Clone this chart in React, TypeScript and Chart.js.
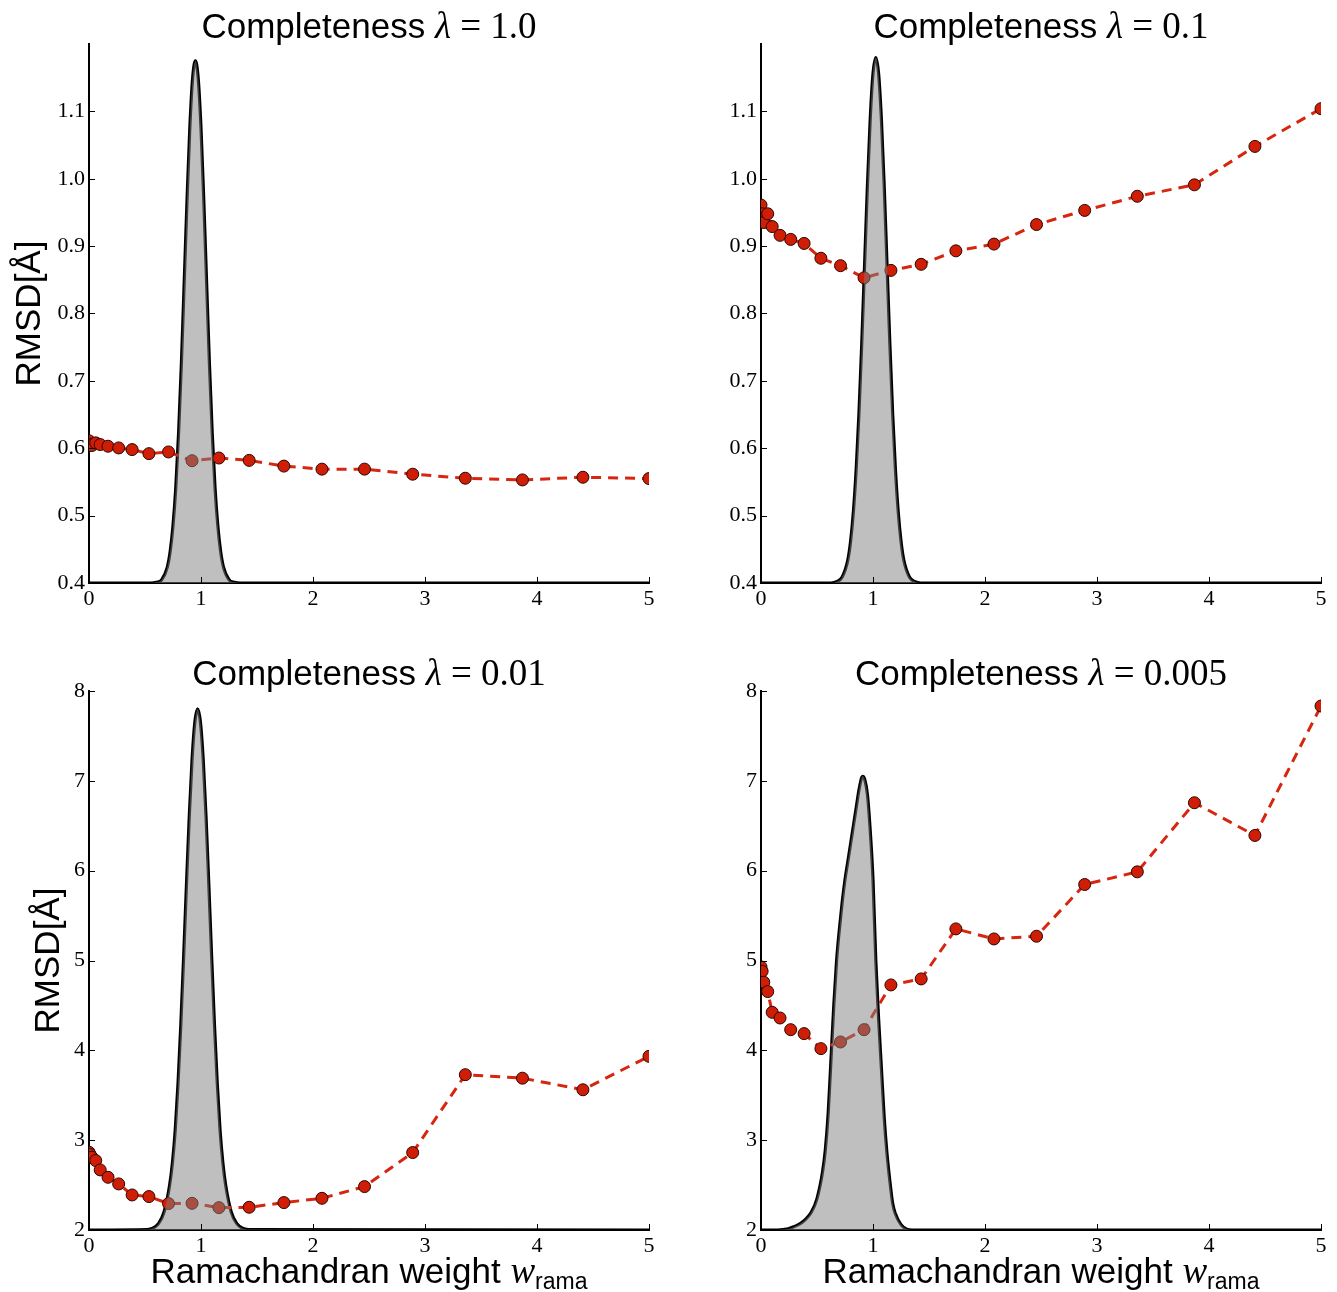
import React, { useEffect, useRef } from "react";
import { Chart, registerables } from "chart.js";

Chart.register(...registerables);

// ---------- data ----------
const W_RAMA = [0, 0.01, 0.025, 0.06, 0.1, 0.17, 0.265, 0.385, 0.535, 0.71, 0.92, 1.16, 1.43, 1.74, 2.08, 2.46, 2.89, 3.36, 3.87, 4.41, 5.0];

const RMSD_L1 = [0.611, 0.606, 0.604, 0.608, 0.6055, 0.603, 0.6005, 0.598, 0.592, 0.5945, 0.5815, 0.5855, 0.582, 0.5735, 0.569, 0.569, 0.5615, 0.5555, 0.553, 0.557, 0.555];
const RMSD_L01 = [0.961, 0.948, 0.935, 0.948, 0.929, 0.916, 0.91, 0.904, 0.882, 0.871, 0.853, 0.864, 0.873, 0.893, 0.903, 0.932, 0.953, 0.974, 0.991, 1.048, 1.104];
const RMSD_L001 = [2.866, 2.84, 2.81, 2.773, 2.669, 2.587, 2.513, 2.39, 2.372, 2.294, 2.297, 2.249, 2.253, 2.305, 2.353, 2.483, 2.862, 3.729, 3.69, 3.561, 3.933];
const RMSD_L0005 = [4.929, 4.88, 4.758, 4.654, 4.423, 4.36, 4.23, 4.186, 4.019, 4.093, 4.23, 4.728, 4.795, 5.352, 5.24, 5.27, 5.846, 5.987, 6.756, 6.392, 7.833];

const DENS_X_L1 = [0, 0.55, 0.6, 0.65, 0.7, 0.725, 0.75, 0.775, 0.8, 0.825, 0.85, 0.875, 0.9, 0.925, 0.95, 0.975, 1.0, 1.025, 1.05, 1.075, 1.1, 1.125, 1.15, 1.175, 1.2, 1.25, 1.3, 1.35, 5];
const DENS_Y_L1 = [0.4, 0.4, 0.401, 0.405, 0.424, 0.447, 0.485, 0.542, 0.623, 0.726, 0.846, 0.967, 1.075, 1.149, 1.175, 1.149, 1.075, 0.967, 0.846, 0.726, 0.623, 0.542, 0.485, 0.447, 0.424, 0.405, 0.401, 0.4, 0.4];

const DENS_X_L01 = [0, 0.625, 0.675, 0.725, 0.775, 0.8, 0.825, 0.85, 0.875, 0.9, 0.925, 0.95, 0.975, 1.0, 1.025, 1.05, 1.075, 1.1, 1.125, 1.15, 1.175, 1.2, 1.225, 1.25, 1.275, 1.325, 1.375, 1.425, 5];
const DENS_Y_L01 = [0.4, 0.4, 0.402, 0.409, 0.434, 0.462, 0.506, 0.569, 0.653, 0.757, 0.873, 0.989, 1.088, 1.156, 1.18, 1.156, 1.088, 0.989, 0.873, 0.757, 0.653, 0.569, 0.506, 0.462, 0.434, 0.409, 0.402, 0.4, 0.4];

const DENS_X_L001 = [0, 0.52, 0.57, 0.62, 0.67, 0.72, 0.745, 0.77, 0.795, 0.82, 0.845, 0.87, 0.895, 0.92, 0.945, 0.97, 0.995, 1.02, 1.045, 1.07, 1.095, 1.12, 1.145, 1.17, 1.195, 1.22, 1.27, 1.32, 1.37, 1.42, 5];
const DENS_Y_L001 = [2, 2.005, 2.02, 2.07, 2.2, 2.5, 2.75, 3.111, 3.636, 4.289, 5.041, 5.837, 6.597, 7.231, 7.652, 7.8, 7.652, 7.231, 6.597, 5.837, 5.041, 4.289, 3.636, 3.111, 2.75, 2.5, 2.2, 2.07, 2.02, 2.005, 2];

const DENS_X_L0005 = [0, 0.15, 0.2, 0.25, 0.3, 0.35, 0.4, 0.45, 0.5, 0.55, 0.575, 0.6, 0.625, 0.65, 0.675, 0.7, 0.725, 0.75, 0.775, 0.8, 0.825, 0.85, 0.875, 0.9, 0.91, 0.925, 0.95, 0.975, 1.0, 1.025, 1.05, 1.075, 1.1, 1.125, 1.15, 1.175, 1.2, 1.25, 1.3, 1.35, 5];
const DENS_Y_L0005 = [2, 2, 2.005, 2.015, 2.04, 2.07, 2.12, 2.2, 2.35, 2.65, 2.9, 3.3, 3.9, 4.5, 5.0, 5.35, 5.65, 5.9, 6.1, 6.3, 6.5, 6.7, 6.9, 7.04, 7.05, 7.02, 6.85, 6.45, 5.9, 5.0, 4.35, 3.8, 3.25, 2.85, 2.55, 2.3, 2.18, 2.06, 2.01, 2, 2];

const X_TICKS = [0, 1, 2, 3, 4, 5];
const Y_TICKS_TOP = [0.4, 0.5, 0.6, 0.7, 0.8, 0.9, 1.0, 1.1];
const Y_TICKS_BOTTOM = [2, 3, 4, 5, 6, 7, 8];

const LAMBDAS = ["1.0", "0.1", "0.01", "0.005"];
const TITLE_WORD = "Completeness";
const Y_TITLE = "RMSD[Å]";
const X_TITLE = "Ramachandran weight";
const X_TITLE_VAR = "w";
const X_TITLE_SUB = "rama";

// ---------- styles ----------
const SANS = '"Liberation Sans", Arial, sans-serif';
const SERIF = '"Liberation Serif", "Times New Roman", serif';
const RED_LINE = "rgb(214,38,16)";
const RED_PT = "rgb(208,30,6)";

type Part = { t: string; f: string; dy?: number };

function drawParts(ctx: CanvasRenderingContext2D, parts: Part[], cx: number, y: number) {
  let total = 0;
  const widths = parts.map((p) => {
    ctx.font = p.f;
    const w = ctx.measureText(p.t).width;
    total += w;
    return w;
  });
  let x = cx - total / 2;
  ctx.textAlign = "left";
  ctx.textBaseline = "alphabetic";
  parts.forEach((p, i) => {
    ctx.font = p.f;
    ctx.fillText(p.t, x, y + (p.dy || 0));
    x += widths[i];
  });
}

const panelTextPlugin = {
  id: "panelText",
  afterDraw(chart: any, _args: any, opts: any) {
    const { ctx, chartArea } = chart;
    const cx = (chartArea.left + chartArea.right) / 2;
    ctx.save();
    ctx.fillStyle = "#000";
    ctx.strokeStyle = "#000";
    // inner tick marks
    ctx.lineWidth = 1;
    const xs = chart.scales.x;
    const ys = chart.scales.y;
    xs.ticks.forEach((t: any) => {
      const px = Math.round(xs.getPixelForValue(t.value)) + 0.5;
      ctx.beginPath();
      ctx.moveTo(px, chartArea.bottom);
      ctx.lineTo(px, chartArea.bottom - 6);
      ctx.stroke();
    });
    ys.ticks.forEach((t: any) => {
      const py = Math.round(ys.getPixelForValue(t.value)) + 0.5;
      ctx.beginPath();
      ctx.moveTo(chartArea.left, py);
      ctx.lineTo(chartArea.left + 6, py);
      ctx.stroke();
    });
    // title
    drawParts(
      ctx,
      [
        { t: TITLE_WORD + " ", f: `35px ${SANS}` },
        { t: "λ", f: `italic 37px ${SERIF}` },
        { t: " = ", f: `37px ${SERIF}` },
        { t: opts.lambda, f: `37px ${SERIF}` },
      ],
      cx,
      chartArea.top - 6
    );
    // y title
    if (opts.yTitleX != null) {
      ctx.save();
      ctx.translate(opts.yTitleX, (chartArea.top + chartArea.bottom) / 2);
      ctx.rotate(-Math.PI / 2);
      ctx.font = `35px ${SANS}`;
      ctx.textAlign = "center";
      ctx.textBaseline = "middle";
      ctx.fillText(Y_TITLE, 0, 0);
      ctx.restore();
    }
    // x title
    if (opts.xTitle) {
      drawParts(
        ctx,
        [
          { t: X_TITLE + " ", f: `35px ${SANS}` },
          { t: X_TITLE_VAR, f: `italic 37px ${SERIF}` },
          { t: X_TITLE_SUB, f: `23px ${SANS}`, dy: 6 },
        ],
        cx,
        chartArea.bottom + 53
      );
    }
    ctx.restore();
  },
};

type Spec = {
  left: number;
  top: number;
  width: number;
  height: number;
  padTop: number;
  padRight: number;
  xHeight: number;
  lambda: string;
  rmsd: number[];
  densX: number[];
  densY: number[];
  yMin: number;
  yMax: number;
  yTicks: number[];
  yDec: number;
  yTitleX: number | null;
  xTitle: boolean;
};

const pairs = (xs: number[], ys: number[]) => xs.map((x, i) => ({ x, y: ys[i] }));

function Panel({ spec }: { spec: Spec }) {
  const ref = useRef<HTMLCanvasElement>(null);
  useEffect(() => {
    const chart = new Chart(ref.current as HTMLCanvasElement, {
      type: "line",
      data: {
        datasets: [
          {
            data: pairs(spec.densX, spec.densY),
            borderColor: "#000",
            borderWidth: 3.2,
            fill: false,
            pointRadius: 0,
            cubicInterpolationMode: "monotone",
            order: 3,
            clip: 0,
          } as any,
          {
            data: pairs(W_RAMA, spec.rmsd),
            borderColor: RED_LINE,
            borderWidth: 3,
            borderDash: [10, 7],
            pointRadius: 6,
            pointBackgroundColor: RED_PT,
            pointBorderColor: "#2a0500",
            pointBorderWidth: 1,
            fill: false,
            tension: 0,
            order: 2,
            clip: 0,
          } as any,
          {
            data: pairs(spec.densX, spec.densY),
            borderWidth: 0,
            borderColor: "rgba(0,0,0,0)",
            backgroundColor: "rgba(128,128,128,0.5)",
            fill: "start",
            pointRadius: 0,
            cubicInterpolationMode: "monotone",
            order: 1,
            clip: 0,
          } as any,
        ],
      },
      options: {
        responsive: false,
        animation: false,
        events: [],
        layout: {
          autoPadding: false,
          padding: { top: spec.padTop, right: spec.padRight, bottom: 0, left: 0 },
        },
        plugins: {
          legend: { display: false },
          tooltip: { enabled: false },
          title: { display: false },
          panelText: { lambda: spec.lambda, yTitleX: spec.yTitleX, xTitle: spec.xTitle },
        } as any,
        scales: {
          x: {
            type: "linear",
            min: 0,
            max: 5,
            afterBuildTicks: (s: any) => {
              s.ticks = X_TICKS.map((v) => ({ value: v }));
            },
            afterFit: (s: any) => {
              s.height = spec.xHeight;
            },
            grid: { display: false, drawTicks: false },
            border: { display: true, color: "#000", width: 2 },
            ticks: {
              color: "#000",
              font: { family: SERIF, size: 22 },
              padding: 3,
              maxRotation: 0,
              autoSkip: false,
              callback: (v: any) => String(v),
            },
          },
          y: {
            type: "linear",
            min: spec.yMin,
            max: spec.yMax,
            afterBuildTicks: (s: any) => {
              s.ticks = spec.yTicks.map((v) => ({ value: v }));
            },
            afterFit: (s: any) => {
              s.width = 89;
            },
            grid: { display: false, drawTicks: false },
            border: { display: true, color: "#000", width: 2 },
            ticks: {
              color: "#000",
              font: { family: SERIF, size: 22 },
              padding: 4,
              autoSkip: false,
              callback: (v: any) => Number(v).toFixed(spec.yDec),
            },
          },
        },
      } as any,
      plugins: [panelTextPlugin as any],
    });
    return () => chart.destroy();
  }, []);
  return (
    <canvas
      ref={ref}
      width={spec.width}
      height={spec.height}
      style={{ position: "absolute", left: spec.left, top: spec.top, width: spec.width, height: spec.height }}
    />
  );
}

const PANELS: Spec[] = [
  {
    left: 0, top: 0, width: 668, height: 646, padTop: 44, padRight: 19, xHeight: 63,
    lambda: LAMBDAS[0], rmsd: RMSD_L1, densX: DENS_X_L1, densY: DENS_Y_L1,
    yMin: 0.4, yMax: 1.2, yTicks: Y_TICKS_TOP, yDec: 1, yTitleX: 30, xTitle: false,
  },
  {
    left: 672, top: 0, width: 665, height: 646, padTop: 44, padRight: 16, xHeight: 63,
    lambda: LAMBDAS[1], rmsd: RMSD_L01, densX: DENS_X_L01, densY: DENS_Y_L01,
    yMin: 0.4, yMax: 1.2, yTicks: Y_TICKS_TOP, yDec: 1, yTitleX: null, xTitle: false,
  },
  {
    left: 0, top: 646, width: 668, height: 646, padTop: 45, padRight: 19, xHeight: 62,
    lambda: LAMBDAS[2], rmsd: RMSD_L001, densX: DENS_X_L001, densY: DENS_Y_L001,
    yMin: 2, yMax: 8, yTicks: Y_TICKS_BOTTOM, yDec: 0, yTitleX: 49, xTitle: true,
  },
  {
    left: 672, top: 646, width: 665, height: 646, padTop: 45, padRight: 16, xHeight: 62,
    lambda: LAMBDAS[3], rmsd: RMSD_L0005, densX: DENS_X_L0005, densY: DENS_Y_L0005,
    yMin: 2, yMax: 8, yTicks: Y_TICKS_BOTTOM, yDec: 0, yTitleX: null, xTitle: true,
  },
];

export default function App() {
  return (
    <div
      style={{
        position: "absolute",
        left: 0,
        top: 0,
        width: 1337,
        height: 1292,
        overflow: "hidden",
        background: "#fff",
      }}
    >
      {PANELS.map((p, i) => (
        <Panel key={i} spec={p} />
      ))}
    </div>
  );
}
